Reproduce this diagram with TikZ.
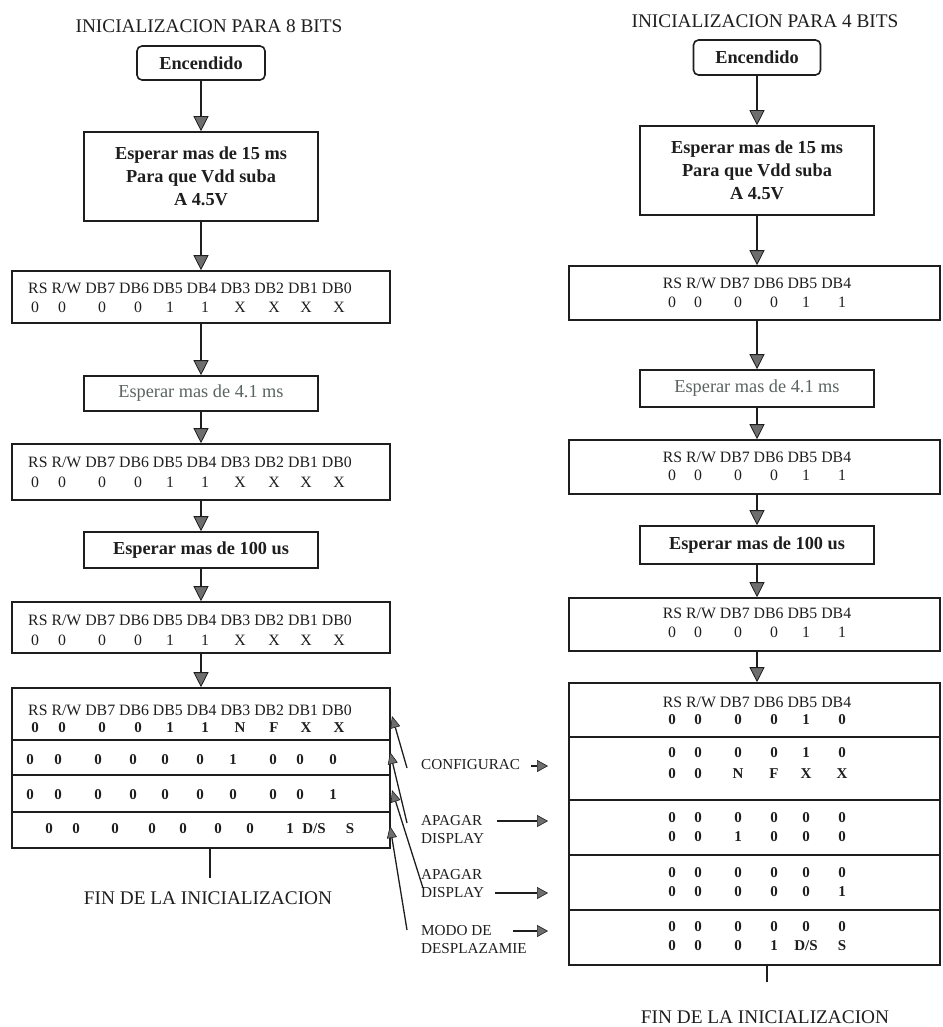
\documentclass[tikz,border=0pt]{standalone}
\usepackage{fontspec}
\setmainfont{Liberation Serif}
\usetikzlibrary{arrows.meta}

\definecolor{ink}{HTML}{1E1E1E}
\definecolor{tipgray}{HTML}{6E6E6E}
\definecolor{paleink}{HTML}{5A6460}

\newcommand\fsz[2]{\fontsize{#1}{#2}\selectfont}
% one row of register values: name prefix, centre y, list of x/value, style
\newcommand\vrow[4]{%
  \foreach \x/\v [count=\i] in {#3} \node[#4] (#1\i) at (\x,#2) {\v};}

\begin{document}
\begin{tikzpicture}[x=1pt,y=-1pt,
  txt/.style={inner sep=0pt, text=ink, font=\fsz{15.8}{18}, anchor=base, yshift=-5.3pt},
  txtb/.style={txt, font=\bfseries\fsz{15}{18}},
  title/.style={inner sep=0pt, text=ink, font=\fsz{19.3}{22}},
  lbl/.style={inner sep=0pt, text=ink, font=\fsz{15.2}{18}, align=left, anchor=west},
  stepbox/.style={draw=ink, line width=1.6pt, inner sep=0pt, fill=white},
  msgbox/.style={stepbox, font=\bfseries\fsz{18.3}{23}, align=center, text=ink},
  divider/.style={draw=ink, line width=1.4pt},
  flow/.style={draw=ink, line width=1.8pt,
    -{Triangle[length=15pt,width=15pt,line width=0.8pt,fill=tipgray]}},
  diag/.style={draw=ink, line width=1.3pt,
    -{Triangle[length=12pt,width=10pt,line width=0.6pt,fill=tipgray]}},
  point/.style={draw=ink, line width=1.3pt,
    -{Triangle[length=11pt,width=12pt,line width=0.6pt,fill=tipgray]}},
  endline/.style={draw=ink, line width=1.8pt}
]
\useasboundingbox (0,0) rectangle (942,1027);

% ---------------- 8-bit initialisation ----------------
\node[title] (ltitle) at (209,26) {INICIALIZACION PARA 8 BITS};
\node[msgbox, rounded corners=5pt, minimum width=128pt, minimum height=34pt] (lenc) at (201,63) {Encendido};
\node[msgbox, minimum width=234pt, minimum height=89pt] (lb2) at (201,176.5)
  {Esperar mas de 15 ms\\Para que Vdd suba\\A 4.5V};
\node[stepbox, minimum width=378pt, minimum height=52pt] (lb3) at (201,297) {};
\node[msgbox, minimum width=234pt, minimum height=35pt, text=paleink, font=\fsz{18.3}{23}] (lb4) at (201,393.5) {Esperar mas de 4.1 ms};
\node[stepbox, minimum width=378pt, minimum height=56pt] (lb5) at (201,472) {};
\node[msgbox, minimum width=234pt, minimum height=36pt] (lb6) at (201,550) {Esperar mas de 100 us};
\node[stepbox, minimum width=378pt, minimum height=51pt] (lb7) at (201,627.5) {};
\node[stepbox, minimum width=378pt, minimum height=160pt] (lb8) at (201,768) {};

\draw[divider] (lb8.west |- 0,740) -- (lb8.east |- 0,740);
\draw[divider] (lb8.west |- 0,775) -- (lb8.east |- 0,775);
\draw[divider] (lb8.west |- 0,812) -- (lb8.east |- 0,812);

\draw[flow] (lenc.south) -- (lb2.north);
\draw[flow] (lb2.south) -- (lb3.north);
\draw[flow] (lb3.south) -- (lb4.north);
\draw[flow] (lb4.south) -- (lb5.north);
\draw[flow] (lb5.south) -- (lb6.north);
\draw[flow] (lb6.south) -- (lb7.north);
\draw[flow] (lb7.south) -- (lb8.north);

% register tables
\node[txt] (lh3) at (190,288) {RS R/W DB7 DB6 DB5 DB4 DB3 DB2 DB1 DB0};
\vrow{lv3-}{307}{35/0,62/0,102/0,138/0,170/1,205/1,240/X,274/X,306/X,339/X}{txt}
\node[txt] (lh5) at (190,462) {RS R/W DB7 DB6 DB5 DB4 DB3 DB2 DB1 DB0};
\vrow{lv5-}{482}{35/0,62/0,102/0,138/0,170/1,205/1,240/X,274/X,306/X,339/X}{txt}
\node[txt] (lh7) at (190,620) {RS R/W DB7 DB6 DB5 DB4 DB3 DB2 DB1 DB0};
\vrow{lv7-}{640}{35/0,62/0,102/0,138/0,170/1,205/1,240/X,274/X,306/X,339/X}{txt}
\node[txt] (lh8) at (190,710) {RS R/W DB7 DB6 DB5 DB4 DB3 DB2 DB1 DB0};
\vrow{lv8a-}{727}{35/0,62/0,102/0,138/0,170/1,205/1,240/N,274/F,306/X,339/X}{txtb}
\vrow{lv8b-}{759}{30/0,58/0,98/0,133/0,165/0,200/0,233/1,273/0,300/0,333/0}{txtb}
\vrow{lv8c-}{794}{30/0,58/0,98/0,133/0,165/0,200/0,233/0,273/0,300/0,333/1}{txtb}
\vrow{lv8d-}{828}{49/0,76/0,115/0,152/0,183/0,218/0,250/0,290/1,314/{D/S},350/S}{txtb}

\coordinate (lend) at (210,878);
\draw[endline] (lend |- lb8.south) -- (lend);
\node[title] (lfin) at (208,898) {FIN DE LA INICIALIZACION};

% ---------------- 4-bit initialisation ----------------
\node[title] (rtitle) at (765,21) {INICIALIZACION PARA 4 BITS};
\node[msgbox, rounded corners=5pt, minimum width=127pt, minimum height=35pt] (renc) at (757,57.5) {Encendido};
\node[msgbox, minimum width=234pt, minimum height=89pt] (rb2) at (757,170.5)
  {Esperar mas de 15 ms\\Para que Vdd suba\\A 4.5V};
\node[stepbox, minimum width=371pt, minimum height=54pt] (rb3) at (754.5,293) {};
\node[msgbox, minimum width=234pt, minimum height=37pt, text=paleink, font=\fsz{18.3}{23}] (rb4) at (757,388.5) {Esperar mas de 4.1 ms};
\node[stepbox, minimum width=371pt, minimum height=54pt] (rb5) at (754.5,467) {};
\node[msgbox, minimum width=234pt, minimum height=38pt] (rb6) at (757,545) {Esperar mas de 100 us};
\node[stepbox, minimum width=371pt, minimum height=53pt] (rb7) at (754.5,624.5) {};
\node[stepbox, minimum width=371pt, minimum height=282pt] (rb8) at (754.5,824) {};

\draw[divider] (rb8.west |- 0,737) -- (rb8.east |- 0,737);
\draw[divider] (rb8.west |- 0,800) -- (rb8.east |- 0,800);
\draw[divider] (rb8.west |- 0,855) -- (rb8.east |- 0,855);
\draw[divider] (rb8.west |- 0,910) -- (rb8.east |- 0,910);

\draw[flow] (renc.south) -- (rb2.north);
\draw[flow] (rb2.south) -- (rb2.south |- rb3.north);
\draw[flow] (rb4.north |- rb3.south) -- (rb4.north);
\draw[flow] (rb4.south) -- (rb4.south |- rb5.north);
\draw[flow] (rb6.north |- rb5.south) -- (rb6.north);
\draw[flow] (rb6.south) -- (rb6.south |- rb7.north);
\draw[flow] (rb6.south |- rb7.south) -- (rb6.south |- rb8.north);

\node[txt] (rh3) at (757,283) {RS R/W DB7 DB6 DB5 DB4};
\vrow{rv3-}{302}{672/0,698/0,738/0,774/0,806/1,842/1}{txt}
\node[txt] (rh5) at (757,457) {RS R/W DB7 DB6 DB5 DB4};
\vrow{rv5-}{475}{672/0,698/0,738/0,774/0,806/1,842/1}{txt}
\node[txt] (rh7) at (757,613) {RS R/W DB7 DB6 DB5 DB4};
\vrow{rv7-}{632}{672/0,698/0,738/0,774/0,806/1,842/1}{txt}
\node[txt] (rh8) at (757,702) {RS R/W DB7 DB6 DB5 DB4};
\vrow{rv8a-}{719}{672/0,698/0,738/0,774/0,806/1,842/0}{txtb}
\vrow{rv8b-}{752}{672/0,698/0,738/0,774/0,806/1,842/0}{txtb}
\vrow{rv8c-}{773}{672/0,698/0,738/N,774/F,806/X,842/X}{txtb}
\vrow{rv8d-}{817}{672/0,698/0,738/0,774/0,806/0,842/0}{txtb}
\vrow{rv8e-}{836}{672/0,698/0,738/1,774/0,806/0,842/0}{txtb}
\vrow{rv8f-}{872}{672/0,698/0,738/0,774/0,806/0,842/0}{txtb}
\vrow{rv8g-}{891}{672/0,698/0,738/0,774/0,806/0,842/1}{txtb}
\vrow{rv8h-}{926}{672/0,698/0,738/0,774/0,806/0,842/0}{txtb}
\vrow{rv8i-}{945}{672/0,698/0,738/0,774/1,806/{D/S},842/S}{txtb}

\coordinate (rend) at (767,982);
\draw[endline] (rend |- rb8.south) -- (rend);
\node[title] (rfin) at (765,1017) {FIN DE LA INICIALIZACION};

% ---------------- command labels between the columns ----------------
\node[lbl] (cfg) at (421,765) {CONFIGURAC};
\node[lbl] (off1) at (421,829.5) {APAGAR\\DISPLAY};
\node[lbl] (off2) at (421,884) {APAGAR\\DISPLAY};
\node[lbl] (shift) at (421,940) {MODO DE\\DESPLAZAMIE};

\coordinate (p1s) at (531,766);  \coordinate (p1t) at (548,766);
\coordinate (p2s) at (497,821);  \coordinate (p2t) at (548,821);
\coordinate (p3s) at (495,893);  \coordinate (p3t) at (548,893);
\coordinate (p4s) at (513,931);  \coordinate (p4t) at (548,931);
\draw[point] (p1s) -- (p1t);
\draw[point] (p2s) -- (p2t);
\draw[point] (p3s) -- (p3t);
\draw[point] (p4s) -- (p4t);

\coordinate (d1s) at (407,768);  \coordinate (d1t) at (392,716);
\coordinate (d2s) at (407,823);  \coordinate (d2t) at (390,752);
\coordinate (d3s) at (423,888);  \coordinate (d3t) at (392,790);
\coordinate (d4s) at (407,930);  \coordinate (d4t) at (390,826);
\draw[diag] (d1s) -- (d1t);
\draw[diag] (d2s) -- (d2t);
\draw[diag] (d3s) -- (d3t);
\draw[diag] (d4s) -- (d4t);

\end{tikzpicture}
\end{document}
